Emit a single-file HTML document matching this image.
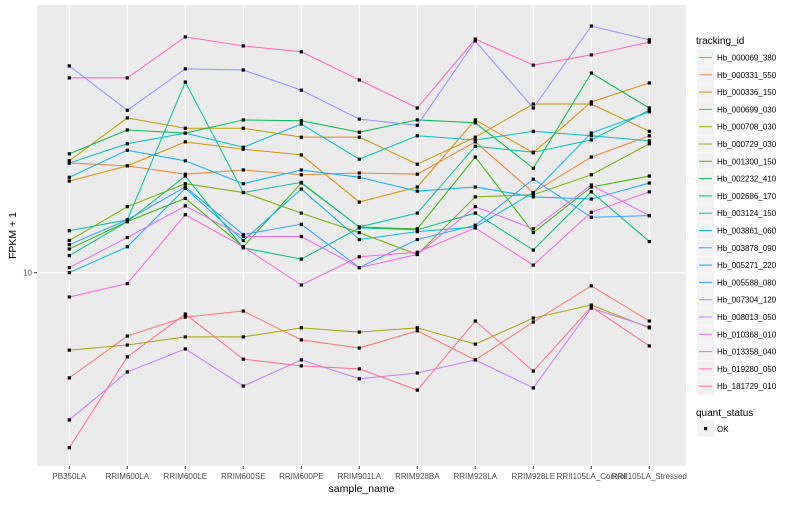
<!DOCTYPE html>
<html><head><meta charset="utf-8"><style>
body{margin:0;background:#fff;font-family:"Liberation Sans",sans-serif}
svg text{font-family:"Liberation Sans",sans-serif}
</style></head><body>
<svg id="c" width="800" height="500"></svg>
<script>
const categories=["PB350LA","RRIM600LA","RRIM600LE","RRIM600SE","RRIM600PE","RRIM901LA","RRIM928BA","RRIM928LA","RRIM928LE","RRII105LA_Control","RRII105LA_Stressed"];
const seriesNames=["Hb_000069_380","Hb_000331_550","Hb_000336_150","Hb_000699_030","Hb_000708_030","Hb_000729_030","Hb_001300_150","Hb_002232_410","Hb_002686_170","Hb_003124_150","Hb_003861_060","Hb_003878_090","Hb_005271_220","Hb_005588_080","Hb_007304_120","Hb_008013_050","Hb_010368_010","Hb_013358_040","Hb_019280_050","Hb_181729_010"];
const colors=["#F8766D","#EA8331","#D89000","#C09B00","#A3A500","#7CAE00","#39B600","#00BB4E","#00BF7D","#00C1A3","#00BFC4","#00BAE0","#00B0F6","#35A2FF","#9590FF","#C77CFF","#E76BF3","#FA62DB","#FF62BC","#FF6C91"];
const s000069=[4.46,6.15,7.11,7.45,5.97,5.61,6.40,5.12,6.85,9.04,6.90];
const s000331=[23.2,22.7,21.3,22.0,21.2,21.5,21.3,27.3,18.5,24.3,28.6];
const s000336=[20.2,22.7,27.3,25.8,24.7,17.2,19.3,32.3,25.1,37.1,42.9];
const s000699=[23.6,32.8,30.3,30.3,28.3,28.3,23.0,28.3,36.5,36.5,29.6];
const s000708=[5.52,5.74,6.11,6.11,6.55,6.34,6.55,5.78,7.06,7.80,6.55];
const s000729=[12.8,16.6,19.8,18.5,15.8,13.6,11.5,17.9,18.2,21.2,26.9];
const s001300=[12.0,14.8,17.7,12.2,19.9,14.2,14.0,24.3,13.6,19.3,21.0];
const s002232=[24.9,29.9,29.2,32.3,32.1,29.4,32.3,31.6,22.3,46.3,35.4];
const s002686=[11.4,14.8,21.0,12.1,11.1,14.1,13.9,15.8,11.9,18.6,12.7];
const s003124=[13.8,15.0,43.2,18.5,20.0,14.2,15.8,26.4,25.2,27.7,34.8];
const s003861=[23.2,26.9,29.2,26.2,31.3,23.9,28.6,27.7,29.6,28.6,27.5];
const s003878=[10.0,12.2,19.1,12.8,19.0,12.9,13.7,14.2,18.5,29.2,34.4];
const s005271=[20.8,25.6,23.6,19.8,22.0,20.8,18.7,19.3,17.9,17.6,19.9];
const s005588=[12.4,15.0,19.3,13.4,14.5,10.4,12.9,14.4,20.5,15.3,15.5];
const s007304=[48.9,34.8,47.8,47.4,40.6,32.5,31.0,59.2,35.4,66.4,59.7];
const s008013=[3.23,4.67,5.57,4.19,5.12,4.43,4.63,5.12,4.13,7.62,6.59];
const s010368=[10.4,13.1,16.7,13.2,13.2,10.4,11.5,16.6,14.0,19.6,15.5];
const s013358=[8.3,9.2,15.6,12.2,9.1,11.3,11.7,14.1,10.6,15.9,18.6];
const s019280=[44.6,44.6,61.1,57.0,54.5,43.9,35.4,60.1,49.2,53.2,58.7];
const s181729=[2.61,5.24,7.28,5.15,4.89,4.78,4.06,6.90,4.70,7.69,5.70];
const yTicks=[10];
const allSeries=[s000069,s000331,s000336,s000699,s000708,s000729,s001300,s002232,s002686,s003124,s003861,s003878,s005271,s005588,s007304,s008013,s010368,s013358,s019280,s181729];

const NS="http://www.w3.org/2000/svg";
const svg=document.getElementById('c');
function el(t,a,p){const e=document.createElementNS(NS,t);for(const k in a)e.setAttribute(k,a[k]);(p||svg).appendChild(e);return e;}
const PL=37,PR=686,PT=5,PB=466;
function xS(i){return 69.3+58*i;}
function yS(v){return 272.7-300*Math.log10(v/10);}

const panel=el('rect',{x:PL,y:PT,width:PR-PL,height:PB-PT,fill:'#EBEBEB'});


categories.forEach((c,i)=>{
  const g=el('line',{x1:xS(i),x2:xS(i),y1:PT,y2:PB,stroke:'#fff','stroke-width':1.1});
  
  
  el('line',{x1:xS(i),x2:xS(i),y1:PB,y2:PB+3,stroke:'#333','stroke-width':1});
  const t=el('text',{x:xS(i),y:479,'font-size':8,'text-anchor':'middle',fill:'#4d4d4d'});
  t.textContent=c;
  
  
});
yTicks.forEach(v=>{
  const g=el('line',{x1:PL,x2:PR,y1:yS(v),y2:yS(v),stroke:'#fff','stroke-width':1.1});
  
  
  el('line',{x1:PL-3,x2:PL,y1:yS(v),y2:yS(v),stroke:'#333','stroke-width':1});
  const t=el('text',{x:PL-5,y:yS(v)+3,'font-size':8,'text-anchor':'end',fill:'#4d4d4d'});
  t.textContent=String(v);
  
  
});
allSeries.forEach((s,k)=>{
  const p=el('polyline',{points:s.map((v,i)=>xS(i)+','+yS(v)).join(' '),fill:'none',stroke:colors[k],'stroke-width':1});
  
  
});
allSeries.forEach((s,k)=>{
  s.forEach((v,i)=>{
    const r=el('rect',{x:xS(i)-1.6,y:yS(v)-1.6,width:3.2,height:3.2,fill:'#000'});
    
    
  });
});
const xt=el('text',{x:(PL+PR)/2,y:492,'font-size':10.5,'text-anchor':'middle',fill:'#000'});
xt.textContent='sample_name';


const yt=el('text',{x:0,y:0,'font-size':10.5,'text-anchor':'middle',fill:'#000',transform:'translate(16,'+((PT+PB)/2)+') rotate(-90)'});
yt.textContent='FPKM + 1';



const lt=el('text',{x:696,y:44,'font-size':10,fill:'#000'});
lt.textContent='tracking_id';


seriesNames.forEach((n,k)=>{
  const y=49+17.3*k;
  const g=el('g',{});
  
  
  el('rect',{x:697,y:y,width:17,height:17,fill:'#F2F2F2'},g);
  el('line',{x1:699,x2:712,y1:y+8.5,y2:y+8.5,stroke:colors[k],'stroke-width':1},g);
  const t=el('text',{x:717,y:y+11.5,'font-size':8,fill:'#000'},g);
  t.textContent=n;
});
const qt=el('text',{x:696,y:416,'font-size':10,fill:'#000'});
qt.textContent='quant_status';


const qg=el('g',{});


el('rect',{x:697,y:420,width:17,height:17,fill:'#F2F2F2'},qg);
el('rect',{x:704,y:427,width:3.2,height:3.2,fill:'#000'},qg);
const ot=el('text',{x:717,y:432,'font-size':8,fill:'#000'},qg);
ot.textContent='OK';
</script>
</body></html>
